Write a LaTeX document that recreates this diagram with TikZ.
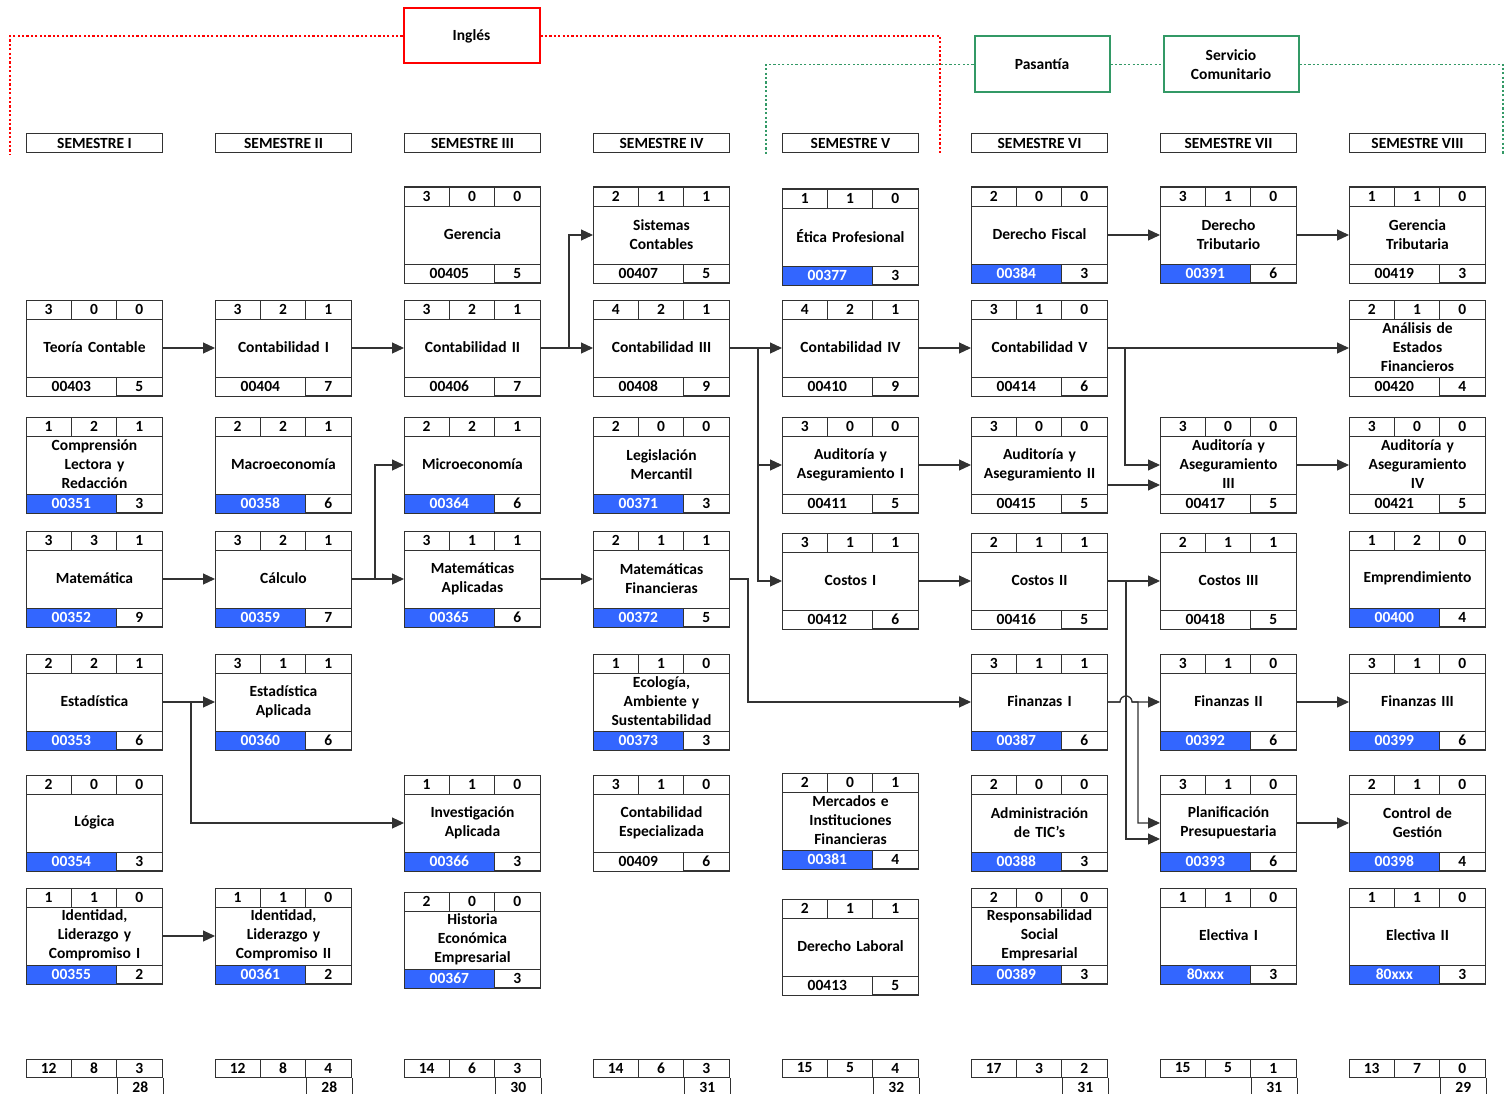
\documentclass[tikz,border=0pt]{standalone}
\usepackage{fontspec}
\setmainfont{Carlito}
\usetikzlibrary{arrows.meta,calc}
\definecolor{codefill}{RGB}{51,102,255}
\definecolor{pasgreen}{RGB}{51,153,102}
\definecolor{linegray}{RGB}{50,50,50}
\newcommand{\boxfont}{\fontsize{15.5}{19}\selectfont\bfseries}
\tikzstyle{coursebox}=[draw=linegray,line width=1pt,minimum width=136pt,minimum height=95pt,inner sep=0pt,anchor=north west]
\tikzstyle{totbox}=[draw=linegray,line width=1pt,minimum width=136pt,minimum height=18pt,inner sep=0pt,anchor=north west]
\tikzstyle{sembox}=[draw=linegray,line width=1pt,minimum width=136pt,minimum height=19pt,inner sep=0pt,anchor=north west,font=\boxfont]
\tikzstyle{cell}=[draw=linegray,line width=1pt]
\tikzstyle{numtext}=[inner sep=0pt,font=\boxfont]
\tikzstyle{titletext}=[inner sep=0pt,text width=134pt,align=center,font=\boxfont]
\tikzstyle{bluecode}=[fill=codefill]
\tikzstyle{bluecode text}=[text=white]
\tikzstyle{whitecode}=[fill=white]
\tikzstyle{whitecode text}=[]
\tikzstyle{link}=[draw=linegray,line width=1.1pt,-{Triangle[length=12pt,width=11pt]}]
\tikzstyle{redline}=[draw=red,line width=1.8pt,dash pattern=on 2.2pt off 2.2pt]
\tikzstyle{greenline}=[draw=pasgreen,line width=1.8pt,dash pattern=on 2.2pt off 2.2pt]
% course box: [code style]{name}{top left}{h1}{h2}{h3}{title}{code}{credits}
\newcommand{\course}[9][whitecode]{%
  \node[coursebox] (#2) at #3 {};
  \draw[cell,#1] (#2.south west) rectangle ++(90.67,-19);
  \draw[cell] (#2.south west) ++(90.67,0) rectangle ++(45.33,-19);
  \draw[cell] (#2.north west) rectangle ++(136,19);
  \draw[cell] (#2.north west) ++(45.33,0) -- ++(0,19) ++(45.33,-19) -- ++(0,19);
  \node[numtext] at ([xshift=22.67pt,yshift=-9.5pt]#2.north west) {#4};
  \node[numtext] at ([xshift=68pt,yshift=-9.5pt]#2.north west) {#5};
  \node[numtext] at ([xshift=113.33pt,yshift=-9.5pt]#2.north west) {#6};
  \node[titletext] at ([yshift=0.5pt]#2.center) {#7};
  \node[numtext,#1 text] at ([xshift=45.33pt,yshift=9.5pt]#2.south west) {#8};
  \node[numtext] at ([xshift=113.33pt,yshift=9.5pt]#2.south west) {#9};
}

\begin{document}
\begin{tikzpicture}[x=1pt,y=-1pt]
    \useasboundingbox (0,0) rectangle (1506,1094);
    \fill[white] (0,0) rectangle (1506,1094);

    % Inglés, Pasantía and Servicio Comunitario
    \node[draw=red,line width=2pt,minimum width=136pt,minimum height=55pt,font=\boxfont] (ingles) at (471.5,36) {Inglés};
    \node[draw=pasgreen,line width=2pt,minimum width=135pt,minimum height=56pt,font=\boxfont] (pasantia) at (1042,64.5) {Pasantía};
    \node[draw=pasgreen,line width=2pt,minimum width=135pt,minimum height=56pt,font=\boxfont,align=center] (servicio) at (1231,64.5) {Servicio\\Comunitario};
    \coordinate (greenL) at (766,155);
    \coordinate (greenR) at (1503,155);
    \coordinate (redL) at (10,155);
    \coordinate (redR) at (940,155);
    \path[greenline] (pasantia.west) -| (greenL);
    \path[greenline] (pasantia) -- (servicio);
    \path[greenline] (servicio.east) -| (greenR);
    \path[redline] (ingles.west) -| (redL);
    \path[redline] (ingles.east) -| (redR);

    % Semester headers
    \foreach \x/\lab/\i in {26/I/1, 215/II/2, 404/III/3, 593/IV/4, 782/V/5, 971/VI/6, 1160/VII/7, 1349/VIII/8}
        \node[sembox] (sem\i) at (\x,133) {SEMESTRE \lab};

    % Semester I
    \course{teo}{(26,300)}{3}{0}{0}{Teoría Contable}{00403}{5}
    \course[bluecode]{comp}{(26,417)}{1}{2}{1}{Comprensión\\Lectora y\\Redacción}{00351}{3}
    \course[bluecode]{mat}{(26,531)}{3}{3}{1}{Matemática}{00352}{9}
    \course[bluecode]{est}{(26,654)}{2}{2}{1}{Estadística}{00353}{6}
    \course[bluecode]{log}{(26,775)}{2}{0}{0}{Lógica}{00354}{3}
    \course[bluecode]{ide1}{(26,888)}{1}{1}{0}{Identidad,\\Liderazgo y\\Compromiso I}{00355}{2}
    % Semester II
    \course{con1}{(215,300)}{3}{2}{1}{Contabilidad I}{00404}{7}
    \course[bluecode]{macro}{(215,417)}{2}{2}{1}{Macroeconomía}{00358}{6}
    \course[bluecode]{calc}{(215,531)}{3}{2}{1}{Cálculo}{00359}{7}
    \course[bluecode]{esta}{(215,654)}{3}{1}{1}{Estadística\\Aplicada}{00360}{6}
    \course[bluecode]{ide2}{(215,888)}{1}{1}{0}{Identidad,\\Liderazgo y\\Compromiso II}{00361}{2}
    % Semester III
    \course{ger}{(404,187)}{3}{0}{0}{Gerencia}{00405}{5}
    \course{con2}{(404,300)}{3}{2}{1}{Contabilidad II}{00406}{7}
    \course[bluecode]{micro}{(404,417)}{2}{2}{1}{Microeconomía}{00364}{6}
    \course[bluecode]{mata}{(404,531)}{3}{1}{1}{Matemáticas\\Aplicadas}{00365}{6}
    \course[bluecode]{inv}{(404,775)}{1}{1}{0}{Investigación\\Aplicada}{00366}{3}
    \course[bluecode]{hist}{(404,892)}{2}{0}{0}{Historia\\Económica\\Empresarial}{00367}{3}
    % Semester IV
    \course{sis}{(593,187)}{2}{1}{1}{Sistemas\\Contables}{00407}{5}
    \course{con3}{(593,300)}{4}{2}{1}{Contabilidad III}{00408}{9}
    \course[bluecode]{leg}{(593,417)}{2}{0}{0}{Legislación\\Mercantil}{00371}{3}
    \course[bluecode]{matf}{(593,531)}{2}{1}{1}{Matemáticas\\Financieras}{00372}{5}
    \course[bluecode]{eco}{(593,654)}{1}{1}{0}{Ecología,\\Ambiente y\\Sustentabilidad}{00373}{3}
    \course{cesp}{(593,775)}{3}{1}{0}{Contabilidad\\Especializada}{00409}{6}
    % Semester V
    \course[bluecode]{etica}{(782,189)}{1}{1}{0}{Ética Profesional}{00377}{3}
    \course{con4}{(782,300)}{4}{2}{1}{Contabilidad IV}{00410}{9}
    \course{aud1}{(782,417)}{3}{0}{0}{Auditoría y\\Aseguramiento I}{00411}{5}
    \course{cos1}{(782,533)}{3}{1}{1}{Costos I}{00412}{6}
    \course[bluecode]{merc}{(782,773)}{2}{0}{1}{Mercados e\\Instituciones\\Financieras}{00381}{4}
    \course{dlab}{(782,899)}{2}{1}{1}{Derecho Laboral}{00413}{5}
    % Semester VI
    \course[bluecode]{dfis}{(971,187)}{2}{0}{0}{Derecho Fiscal}{00384}{3}
    \course{con5}{(971,300)}{3}{1}{0}{Contabilidad V}{00414}{6}
    \course{aud2}{(971,417)}{3}{0}{0}{Auditoría y\\Aseguramiento II}{00415}{5}
    \course{cos2}{(971,533)}{2}{1}{1}{Costos II}{00416}{5}
    \course[bluecode]{fin1}{(971,654)}{3}{1}{1}{Finanzas I}{00387}{6}
    \course[bluecode]{tic}{(971,775)}{2}{0}{0}{Administración\\de TIC’s}{00388}{3}
    \course[bluecode]{resp}{(971,888)}{2}{0}{0}{Responsabilidad\\Social\\Empresarial}{00389}{3}
    % Semester VII
    \course[bluecode]{dtri}{(1160,187)}{3}{1}{0}{Derecho\\Tributario}{00391}{6}
    \course{aud3}{(1160,417)}{3}{0}{0}{Auditoría y\\Aseguramiento\\III}{00417}{5}
    \course{cos3}{(1160,533)}{2}{1}{1}{Costos III}{00418}{5}
    \course[bluecode]{fin2}{(1160,654)}{3}{1}{0}{Finanzas II}{00392}{6}
    \course[bluecode]{plan}{(1160,775)}{3}{1}{0}{Planificación\\Presupuestaria}{00393}{6}
    \course[bluecode]{ele1}{(1160,888)}{1}{1}{0}{Electiva I}{80xxx}{3}
    % Semester VIII
    \course{gtri}{(1349,187)}{1}{1}{0}{Gerencia\\Tributaria}{00419}{3}
    \course{aef}{(1349,300)}{2}{1}{0}{Análisis de\\Estados\\Financieros}{00420}{4}
    \course{aud4}{(1349,417)}{3}{0}{0}{Auditoría y\\Aseguramiento\\IV}{00421}{5}
    \course[bluecode]{empr}{(1349,531)}{1}{2}{0}{Emprendimiento}{00400}{4}
    \course[bluecode]{fin3}{(1349,654)}{3}{1}{0}{Finanzas III}{00399}{6}
    \course[bluecode]{cges}{(1349,775)}{2}{1}{0}{Control de\\Gestión}{00398}{4}
    \course[bluecode]{ele2}{(1349,888)}{1}{1}{0}{Electiva II}{80xxx}{3}

    % Totals per semester
    \foreach \x/\a/\b/\c/\s/\i in {26/12/8/3/28/1, 215/12/8/4/28/2, 404/14/6/3/30/3, 593/14/6/3/31/4, 782/15/5/4/32/5, 971/17/3/2/31/6, 1160/15/5/1/31/7, 1349/13/7/0/29/8}
    {
        \node[totbox] (tot\i) at (\x,1059) {};
        \draw[cell] (tot\i.north west) ++(45.33,0) -- ++(0,18) ++(45.33,-18) -- ++(0,18);
        \draw[cell] (tot\i.south east) -- ++(0,18) (tot\i.south east) ++(-45.33,0) -- ++(0,18);
        \node[numtext] at ([xshift=22.67pt,yshift=-9pt]tot\i.north west) {\a};
        \node[numtext] at ([xshift=68pt,yshift=-9pt]tot\i.north west) {\b};
        \node[numtext] at ([xshift=113.33pt,yshift=-9pt]tot\i.north west) {\c};
        \node[numtext] at ([xshift=-22.67pt,yshift=-9pt]tot\i.south east) {\s};
    }

    % Prerequisite links
    \foreach \source/\dest in {teo/con1, con1/con2, con2/con3, con3/con4, con4/con5, con5/aef, mat/calc, calc/mata, mata/matf, est/esta, ide1/ide2, dfis/dtri, dtri/gtri, aud1/aud2, aud3/aud4, cos1/cos2, cos2/cos3, fin2/fin3, plan/cges}
        \path[link] (\source) -- (\dest);
    \path[link] (con2.east) -- ++(28,0) |- (sis.west);
    \path[link] (con3.east) -- ++(28,0) |- (aud1.west);
    \path[link] (con3.east) -- ++(28,0) |- (cos1.west);
    \path[link] (con5.east) -- ++(17,0) |- (aud3.west);
    \path[link] ($(aud2.east)+(0,20)$) -- ($(aud3.west)+(0,20)$);
    \path[link] (calc.east) -- ++(23,0) |- (micro.west);
    \path[link] (est.east) -- ++(28,0) |- (inv.west);
    \path[link] (matf.east) -- ++(18,0) |- (fin1.west);
    \path[link] (cos2.east) -- ++(18,0) |- ($(plan.west)+(0,16)$);
    \path[link] (fin1.east) -- ++(12,0) arc[start angle=180,end angle=0,radius=6pt] -- (fin2.west);
    \path[link] (fin1.east) -- ++(12,0) arc[start angle=180,end angle=0,radius=6pt] -- ++(6,0) |- (plan.west);
\end{tikzpicture}
\end{document}
